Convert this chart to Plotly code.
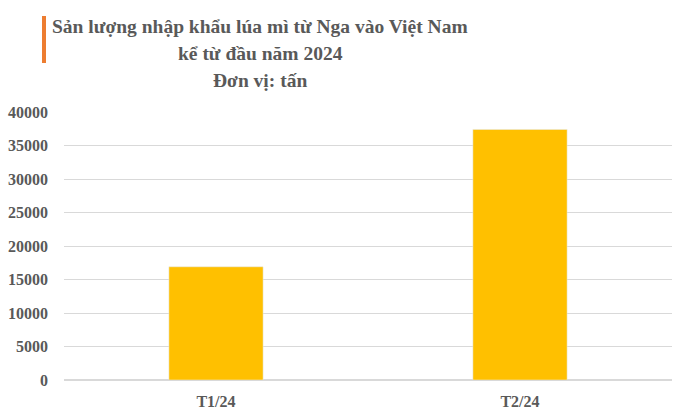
import plotly.graph_objects as go

categories = ["T1/24", "T2/24"]
values = [16900, 37400]
y_ticks = [0, 5000, 10000, 15000, 20000, 25000, 30000, 35000, 40000]
title_lines = ["Sản lượng nhập khẩu lúa mì từ Nga vào Việt Nam", "kể từ đầu năm 2024", "Đơn vị: tấn"]

FONT = "Liberation Serif, Times New Roman, serif"
GREY = "#595959"

W, H = 688, 418
pl, pr, pt, pb = 64, 16, 112, 38
pw, ph = W - pl - pr, H - pt - pb

fig = go.Figure(go.Bar(x=categories, y=values, marker_color="#FFC000", width=0.31,
                       hoverinfo="skip"))

fig.update_layout(
    width=W, height=H,
    margin=dict(l=pl, r=pr, t=pt, b=pb, autoexpand=False),
    plot_bgcolor="white", paper_bgcolor="white",
    showlegend=False,
    font=dict(family=FONT, color=GREY),
    xaxis=dict(tickfont=dict(size=16, family=FONT, color=GREY, weight="bold"), showgrid=False,
               showline=False, ticks="", ticklabelstandoff=10, automargin=False),
    yaxis=dict(range=[0, 40000], tickvals=y_ticks, ticktext=[str(v) for v in y_ticks],
               tickfont=dict(size=16, family=FONT, color=GREY, weight="bold"), showgrid=True,
               gridcolor="#D9D9D9", gridwidth=1, zeroline=True, zerolinecolor="#D9D9D9",
               ticks="", ticklen=0, showline=False, ticklabelstandoff=15, automargin=False),
    bargap=0.69,
)

ys = [26, 53, 80]
for line, y in zip(title_lines, ys):
    fig.add_annotation(text="<b>" + line + "</b>",
                       x=(260 - pl) / pw, y=(H - pb - y) / ph,
                       xref="paper", yref="paper", xanchor="center", yanchor="middle",
                       showarrow=False, font=dict(size=19.5, family=FONT, color=GREY))

fig.add_shape(type="rect", xref="paper", yref="paper",
              x0=(42 - pl) / pw, x1=(46 - pl) / pw,
              y0=(H - pb - 63) / ph, y1=(H - pb - 16) / ph,
              fillcolor="#ED7D31", line_width=0, layer="above")

fig.write_html("out.html", config={"displayModeBar": False},
               post_script="document.body.style.margin='0';")
